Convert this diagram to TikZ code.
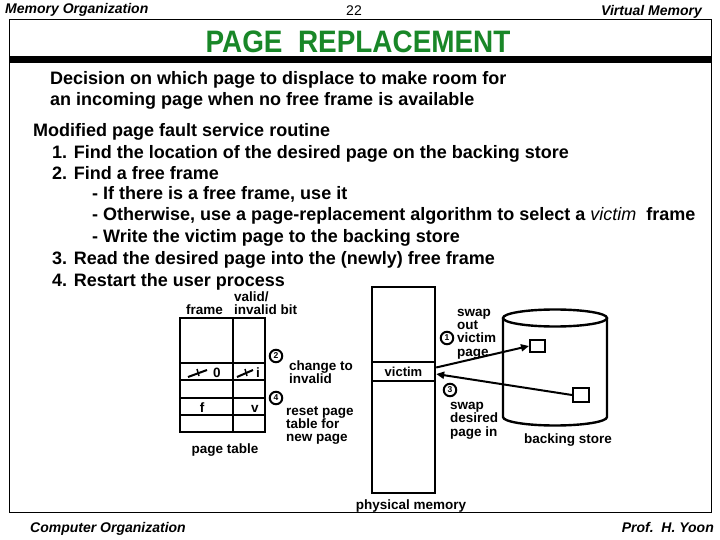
\documentclass[tikz,border=0pt]{standalone}
\usepackage{graphicx}
\usepackage{fontspec}
\setmainfont{Liberation Sans}
\usetikzlibrary{arrows.meta}
\definecolor{titlegreen}{RGB}{25,135,40}
\tikzset{
 body/.style={anchor=base west, inner sep=0pt, font=\fontsize{18}{21}\selectfont\bfseries},
 small/.style={anchor=base west, inner sep=0pt, font=\fontsize{13.5}{15}\selectfont\bfseries},
 hdr/.style={inner sep=0pt, font=\fontsize{14}{16}\selectfont\bfseries\itshape},
 heavy/.style={line width=2.4pt},
 num/.style={circle, draw, line width=2pt, minimum size=12.5pt, inner sep=0pt, font=\fontsize{8.5}{9}\selectfont\bfseries},
 arr/.style={line width=2pt, -{Triangle[length=8pt,width=7pt]}},
 sbox/.style={draw, line width=2pt, inner sep=0pt},
}
\begin{document}
\begin{tikzpicture}[x=1pt,y=-1pt]
\useasboundingbox (0,0) rectangle (720,540);
% header
\node[hdr, anchor=base west] (h1) at (5,14) {Memory Organization};
\node[inner sep=0pt, anchor=base, font=\fontsize{14}{16}\selectfont] (h2) at (354,16) {22};
\node[hdr, anchor=base east] (h3) at (702,16) {Virtual Memory};
% frame
\draw[line width=1pt] (9,20) rectangle (711,512);
\path[fill=black] (9pt,-56.5pt) rectangle (711pt,-62.5pt);
\node[anchor=base, inner sep=0pt, text=titlegreen, font=\fontsize{31}{34}\selectfont\bfseries] (title) at (358,53) {\scalebox{0.9}[1]{PAGE\ \ REPLACEMENT}};
% body text
\node[body] (t1) at (50,85) {Decision on which page to displace to make room for};
\node[body] (t2) at (50,106) {an incoming page when no free frame is available};
\node[body] (t3) at (33,137) {Modified page fault service routine};
\node[body] (t4) at (52,159) {1. Find the location of the desired page on the backing store};
\node[body] (t5) at (52,180) {2. Find a free frame};
\node[body] (t6) at (92,200) {- If there is a free frame, use it};
\node[body] (t7) at (92,221) {- Otherwise, use a page-replacement algorithm to select a {\mdseries\itshape victim}\ \ frame};
\node[body] (t8) at (92,243) {- Write the victim page to the backing store};
\node[body] (t9) at (52,264) {3. Read the desired page into the (newly) free frame};
\node[body] (t10) at (52,286) {4. Restart the user process};
% page table
\draw[heavy] (180,318) rectangle (265,432);
\draw[heavy] (233,318) -- (233,432);
\foreach \yy in {363,380,398,415} {\draw[heavy] (180,\yy) -- (265,\yy);}
\node[small, anchor=base] (c0) at (217,377) {0};
\node[small, anchor=base] (ci) at (258,377) {i};
\node[small, anchor=base] (cf) at (202,412) {f};
\node[small, anchor=base] (cv) at (255,412) {v};
\draw[line width=2pt] (188,377) -- (207,370);
\draw[line width=1.5pt] (197,369) -- (199,376);
\draw[line width=2pt] (237,377) -- (253,370);
\draw[line width=1.5pt] (245,369) -- (247,376);
\node[small] (lf) at (186,314) {frame};
\node[small] (lv1) at (234,301) {valid/};
\node[small] (lv2) at (234,314) {invalid bit};
\node[small, anchor=base] (lpt) at (225,453) {page table};
\node[num] (n2) at (276,356) {2};
\node[num] (n4) at (276,398) {4};
\node[small] (ch1) at (289,370) {change to};
\node[small] (ch2) at (289,383) {invalid};
\node[small] (rs1) at (286,415) {reset page};
\node[small] (rs2) at (286,428) {table for};
\node[small] (rs3) at (286,441) {new page};
% physical memory
\node[draw, heavy, minimum width=63pt, minimum height=206pt, inner sep=0pt] (pm) at (403.5,390) {};
\node[draw, heavy, minimum width=63pt, minimum height=19pt, inner sep=0pt, font=\fontsize{13}{15}\selectfont\bfseries] (victim) at (403.5,371.5) {victim};
\node[small, anchor=base] (lpm) at (411,509) {physical memory};
% backing store
\draw[heavy] (555,318) ellipse [x radius=52pt, y radius=8.5pt];
\draw[heavy] (503,318) -- (503,417) arc [start angle=180, end angle=360, x radius=52pt, y radius=8.5pt] -- (607,318);
\node[sbox, minimum width=15pt, minimum height=12pt] (b1) at (537.5,346) {};
\node[sbox, minimum width=16pt, minimum height=14pt] (b2) at (581,395) {};
\node[small, anchor=base] (lbs) at (568,443) {backing store};
% arrows
\draw[arr] ([yshift=4pt]victim.east) -- (b1.west);
\draw[arr] (b2.west) -- ([yshift=-2.5pt]victim.east);
\node[num] (n1) at (447,338) {1};
\node[num] (n3) at (450,390) {3};
\node[small] (so1) at (457,316) {swap};
\node[small] (so2) at (457,329) {out};
\node[small] (so3) at (457,342) {victim};
\node[small] (so4) at (457,356) {page};
\node[small] (si1) at (450,409) {swap};
\node[small] (si2) at (450,422) {desired};
\node[small] (si3) at (450,436) {page in};
% footer
\node[hdr, anchor=base west] (f1) at (30,532) {Computer Organization};
\node[hdr, anchor=base east] (f2) at (714,532) {Prof.\ \ H. Yoon};
% title bar
\node[fill=black, draw=black, minimum width=702pt, minimum height=5pt, inner sep=0pt, anchor=north west] (bar) at (9,57) {};
\end{tikzpicture}
\end{document}
